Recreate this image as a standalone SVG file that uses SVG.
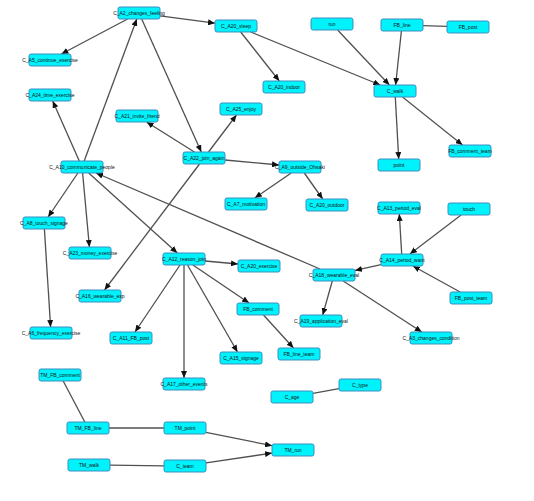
<svg xmlns="http://www.w3.org/2000/svg" width="534" height="501" viewBox="0 0 534 501">
<style>
.n rect{fill:#00f2fa;stroke:#3a8fc0;stroke-width:1}
.n text{font-family:"Liberation Sans",Arial,sans-serif;font-size:5px;fill:#111;text-anchor:middle;dominant-baseline:central}
.e line{stroke:#505050;stroke-width:1.3}
.e line.a{marker-end:url(#arr)}
</style>
<defs>
<marker id="arr" markerUnits="userSpaceOnUse" markerWidth="7" markerHeight="6" refX="7" refY="3" orient="auto">
<path d="M0,0 L7,3 L0,6 z" fill="#111"/>
</marker>
</defs>
<rect width="534" height="501" fill="#fff"/>
<g id="edges" class="e">
<line class="a" x1="127.6" y1="19" x2="61.4" y2="54"/>
<line class="a" x1="160" y1="15.8" x2="215" y2="23.2"/>
<line class="a" x1="141.7" y1="19" x2="201.3" y2="152"/>
<line class="a" x1="84.2" y1="161" x2="136.8" y2="19"/>
<line class="a" x1="79.3" y1="161" x2="52.7" y2="101"/>
<line class="a" x1="194.4" y1="152" x2="146.6" y2="122"/>
<line class="a" x1="208.5" y1="152" x2="236.5" y2="115"/>
<line class="a" x1="225" y1="160" x2="279" y2="165"/>
<line class="a" x1="199.5" y1="164" x2="104.5" y2="290"/>
<line class="a" x1="291.2" y1="173" x2="254.8" y2="198"/>
<line class="a" x1="304.3" y1="173" x2="322.7" y2="199"/>
<line class="a" x1="240.7" y1="32" x2="279.3" y2="81"/>
<line class="a" x1="250.7" y1="32" x2="380.3" y2="85"/>
<line class="a" x1="337.6" y1="30" x2="389.4" y2="85"/>
<line class="a" x1="401.4" y1="31" x2="395.6" y2="85"/>
<line x1="423" y1="25.6" x2="447" y2="26.4"/>
<line class="a" x1="395.3" y1="97" x2="398.7" y2="159"/>
<line class="a" x1="402.5" y1="97" x2="462.5" y2="145"/>
<line class="a" x1="77.9" y1="173" x2="48.1" y2="217"/>
<line class="a" x1="82.6" y1="173" x2="89.4" y2="247"/>
<line class="a" x1="88.7" y1="173" x2="177.3" y2="253"/>
<line class="a" x1="320" y1="269" x2="96" y2="173"/>
<line class="a" x1="44.4" y1="229" x2="50.6" y2="327"/>
<line class="a" x1="180" y1="265" x2="135" y2="332"/>
<line class="a" x1="205" y1="261" x2="238" y2="264"/>
<line class="a" x1="192.9" y1="265" x2="249.1" y2="303"/>
<line class="a" x1="187.5" y1="265" x2="237.5" y2="352"/>
<line class="a" x1="184" y1="265" x2="184" y2="378"/>
<line class="a" x1="263.5" y1="315" x2="293.5" y2="348"/>
<line class="a" x1="401.7" y1="254" x2="399.3" y2="214"/>
<line class="a" x1="461.1" y1="215" x2="409.9" y2="254"/>
<line class="a" x1="460.1" y1="292" x2="412.9" y2="266"/>
<line class="a" x1="381" y1="264.6" x2="355" y2="270.4"/>
<line class="a" x1="332.3" y1="281" x2="322.7" y2="315"/>
<line class="a" x1="343.2" y1="281" x2="421.8" y2="332"/>
<line x1="63.2" y1="381" x2="84.8" y2="422"/>
<line x1="109" y1="428" x2="164" y2="428"/>
<line class="a" x1="206" y1="432.3" x2="272" y2="445.7"/>
<line x1="110" y1="465.2" x2="164" y2="465.8"/>
<line class="a" x1="206" y1="462.9" x2="272" y2="453.1"/>
<line x1="313" y1="393.3" x2="339" y2="388.7"/>
</g>
<g id="n_A2" class="n"><rect x="118" y="7" width="42" height="12" rx="2"/><text x="139" y="13">C_A2_changes_feeling</text></g>
<g id="n_A5" class="n"><rect x="29" y="54" width="42" height="12" rx="2"/><text x="50" y="60">C_A5_continue_exercise</text></g>
<g id="n_A24" class="n"><rect x="29" y="89" width="42" height="12" rx="2"/><text x="50" y="95">C_A24_time_exercise</text></g>
<g id="n_A21" class="n"><rect x="116" y="110" width="42" height="12" rx="2"/><text x="137" y="116">C_A21_invite_friend</text></g>
<g id="n_A20_sleep" class="n"><rect x="215" y="20" width="42" height="12" rx="2"/><text x="236" y="26">C_A20_sleep</text></g>
<g id="n_run" class="n"><rect x="311" y="18" width="42" height="12" rx="2"/><text x="332" y="24">run</text></g>
<g id="n_A20_indoor" class="n"><rect x="263" y="81" width="42" height="12" rx="2"/><text x="284" y="87">C_A20_indoor</text></g>
<g id="n_A25" class="n"><rect x="220" y="103" width="42" height="12" rx="2"/><text x="241" y="109">C_A25_enjoy</text></g>
<g id="n_FB_line" class="n"><rect x="381" y="19" width="42" height="12" rx="2"/><text x="402" y="25">FB_line</text></g>
<g id="n_FB_post" class="n"><rect x="447" y="21" width="42" height="12" rx="2"/><text x="468" y="27">FB_post</text></g>
<g id="n_walk" class="n"><rect x="374" y="85" width="42" height="12" rx="2"/><text x="395" y="91">C_walk</text></g>
<g id="n_A10" class="n"><rect x="61" y="161" width="42" height="12" rx="2"/><text x="82" y="167">C_A10_communicate_people</text></g>
<g id="n_A8" class="n"><rect x="23" y="217" width="42" height="12" rx="2"/><text x="44" y="223">C_A8_touch_signage</text></g>
<g id="n_A23" class="n"><rect x="69" y="247" width="42" height="12" rx="2"/><text x="90" y="253">C_A23_money_exercise</text></g>
<g id="n_A22" class="n"><rect x="183" y="152" width="42" height="12" rx="2"/><text x="204" y="158">C_A22_join_again</text></g>
<g id="n_A9" class="n"><rect x="279" y="161" width="42" height="12" rx="2"/><text x="300" y="167">C_A9_outside_Ohsaki</text></g>
<g id="n_A7" class="n"><rect x="225" y="198" width="42" height="12" rx="2"/><text x="246" y="204">C_A7_motivation</text></g>
<g id="n_A20_outdoor" class="n"><rect x="306" y="199" width="42" height="12" rx="2"/><text x="327" y="205">C_A20_outdoor</text></g>
<g id="n_FB_comment_team" class="n"><rect x="449" y="145" width="42" height="12" rx="2"/><text x="470" y="151">FB_comment_team</text></g>
<g id="n_point" class="n"><rect x="378" y="159" width="42" height="12" rx="2"/><text x="399" y="165">point</text></g>
<g id="n_A13" class="n"><rect x="378" y="202" width="42" height="12" rx="2"/><text x="399" y="208">C_A13_period_eval</text></g>
<g id="n_touch" class="n"><rect x="448" y="203" width="42" height="12" rx="2"/><text x="469" y="209">touch</text></g>
<g id="n_A16" class="n"><rect x="79" y="290" width="42" height="12" rx="2"/><text x="100" y="296">C_A16_wearable_exp</text></g>
<g id="n_A6" class="n"><rect x="30" y="327" width="42" height="12" rx="2"/><text x="51" y="333">C_A6_frequency_exercise</text></g>
<g id="n_A11" class="n"><rect x="110" y="332" width="42" height="12" rx="2"/><text x="131" y="338">C_A11_FB_post</text></g>
<g id="n_A12" class="n"><rect x="163" y="253" width="42" height="12" rx="2"/><text x="184" y="259">C_A12_reason_join</text></g>
<g id="n_A20_exercise" class="n"><rect x="238" y="260" width="42" height="12" rx="2"/><text x="259" y="266">C_A20_exercise</text></g>
<g id="n_A18" class="n"><rect x="313" y="269" width="42" height="12" rx="2"/><text x="334" y="275">C_A18_wearable_eval</text></g>
<g id="n_FB_comment" class="n"><rect x="237" y="303" width="42" height="12" rx="2"/><text x="258" y="309">FB_comment</text></g>
<g id="n_A19" class="n"><rect x="300" y="315" width="42" height="12" rx="2"/><text x="321" y="321">C_A19_application_eval</text></g>
<g id="n_A15" class="n"><rect x="220" y="352" width="42" height="12" rx="2"/><text x="241" y="358">C_A15_signage</text></g>
<g id="n_FB_line_team" class="n"><rect x="278" y="348" width="42" height="12" rx="2"/><text x="299" y="354">FB_line_team</text></g>
<g id="n_A14" class="n"><rect x="381" y="254" width="42" height="12" rx="2"/><text x="402" y="260">C_A14_period_want</text></g>
<g id="n_FB_post_team" class="n"><rect x="450" y="292" width="42" height="12" rx="2"/><text x="471" y="298">FB_post_team</text></g>
<g id="n_A3" class="n"><rect x="410" y="332" width="42" height="12" rx="2"/><text x="431" y="338">C_A3_changes_condition</text></g>
<g id="n_TM_FB_comment" class="n"><rect x="39" y="369" width="42" height="12" rx="2"/><text x="60" y="375">TM_FB_comment</text></g>
<g id="n_TM_FB_line" class="n"><rect x="67" y="422" width="42" height="12" rx="2"/><text x="88" y="428">TM_FB_line</text></g>
<g id="n_TM_walk" class="n"><rect x="68" y="459" width="42" height="12" rx="2"/><text x="89" y="465">TM_walk</text></g>
<g id="n_A17" class="n"><rect x="163" y="378" width="42" height="12" rx="2"/><text x="184" y="384">C_A17_other_events</text></g>
<g id="n_age" class="n"><rect x="271" y="391" width="42" height="12" rx="2"/><text x="292" y="397">C_age</text></g>
<g id="n_TM_point" class="n"><rect x="164" y="422" width="42" height="12" rx="2"/><text x="185" y="428">TM_point</text></g>
<g id="n_team" class="n"><rect x="164" y="460" width="42" height="12" rx="2"/><text x="185" y="466">C_team</text></g>
<g id="n_TM_run" class="n"><rect x="272" y="444" width="42" height="12" rx="2"/><text x="293" y="450">TM_run</text></g>
<g id="n_type" class="n"><rect x="339" y="379" width="42" height="12" rx="2"/><text x="360" y="385">C_type</text></g>
</svg>
